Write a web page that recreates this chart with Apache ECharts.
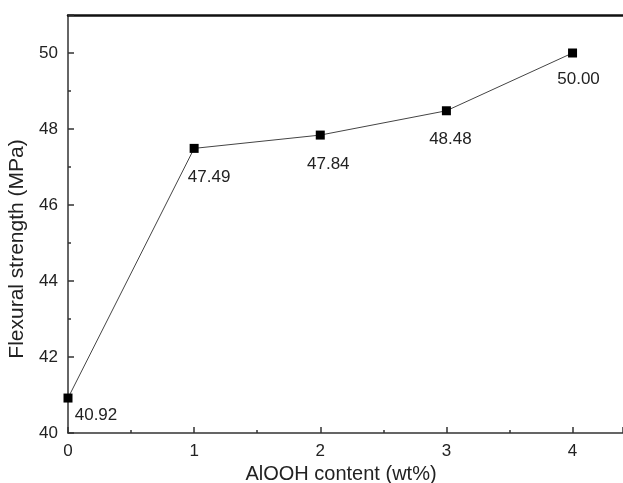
<!DOCTYPE html>
<html>
<head>
<meta charset="utf-8">
<script src="https://cdn.jsdelivr.net/npm/echarts@6/dist/echarts.min.js"></script>
<style>html,body{margin:0;padding:0;background:#fff}#c{width:623px;height:483px}</style>
</head>
<body>
<div id="c"></div>
<script>
const xValues = [0, 1, 2, 3, 4];
const strength = [40.92, 47.49, 47.84, 48.48, 50.00];
const labelTexts = ['40.92', '47.49', '47.84', '48.48', '50.00'];
const xTitle = 'AlOOH content (wt%)';
const yTitle = 'Flexural strength (MPa)';

const labelOffsets = [[28, -12], [15, 0], [8, 0], [4, 0], [6, -3]];
const font = 'Liberation Sans, Arial, sans-serif';

const chart = echarts.init(document.getElementById('c'));
chart.setOption({
  animation: false,
  grid: {left: 68, right: 0, top: 15, bottom: 50, outerBoundsMode: 'none', containLabel: false},
  xAxis: [{
    type: 'value', min: 0, max: 4.4, interval: 1,
    axisLine: {lineStyle: {color: '#333', width: 1.5}},
    axisTick: {inside: true, length: 6, lineStyle: {color: '#333', width: 1.5}},
    minorTick: {show: true, splitNumber: 2, length: 3, lineStyle: {color: '#333', width: 1.5}},
    splitLine: {show: false},
    axisLabel: {color: '#222', fontSize: 17, fontFamily: font, margin: 10, showMaxLabel: false,
      formatter: v => (v <= 4 ? String(v) : '')},
    name: xTitle, nameLocation: 'middle', nameGap: 30,
    nameTextStyle: {color: '#222', fontSize: 20, fontFamily: font, padding: [0, 9, 0, 0]}
  }, {
    type: 'value', position: 'top', min: 0, max: 4.4,
    axisLine: {show: true, onZero: false, lineStyle: {color: '#111', width: 2.5}},
    axisTick: {show: false}, axisLabel: {show: false}, splitLine: {show: false}
  }],
  yAxis: {
    type: 'value', min: 40, max: 51, interval: 2,
    axisLine: {show: true, lineStyle: {color: '#333', width: 1.5}},
    axisTick: {inside: true, length: 6, lineStyle: {color: '#333', width: 1.5}},
    minorTick: {show: true, splitNumber: 2, length: 3, lineStyle: {color: '#333', width: 1.5}},
    splitLine: {show: false},
    axisLabel: {color: '#222', fontSize: 17, fontFamily: font, margin: 10, showMaxLabel: false,
      formatter: v => (v <= 50 ? String(v) : '')},
    name: yTitle, nameLocation: 'middle', nameGap: 35, nameRotate: 90,
    nameTextStyle: {color: '#222', fontSize: 21, fontFamily: font, padding: [0, 50, 0, 0]}
  },
  series: [{
    type: 'line',
    data: xValues.map((x, i) => ({
      value: [x, strength[i]],
      label: {offset: labelOffsets[i]}
    })),
    symbol: 'rect', symbolSize: 9,
    itemStyle: {color: '#000'},
    lineStyle: {color: '#444', width: 1},
    label: {
      show: true, position: 'bottom', distance: 16,
      formatter: p => labelTexts[p.dataIndex],
      color: '#222', fontSize: 17, fontFamily: font
    }
  }]
});
</script>
</body>
</html>
